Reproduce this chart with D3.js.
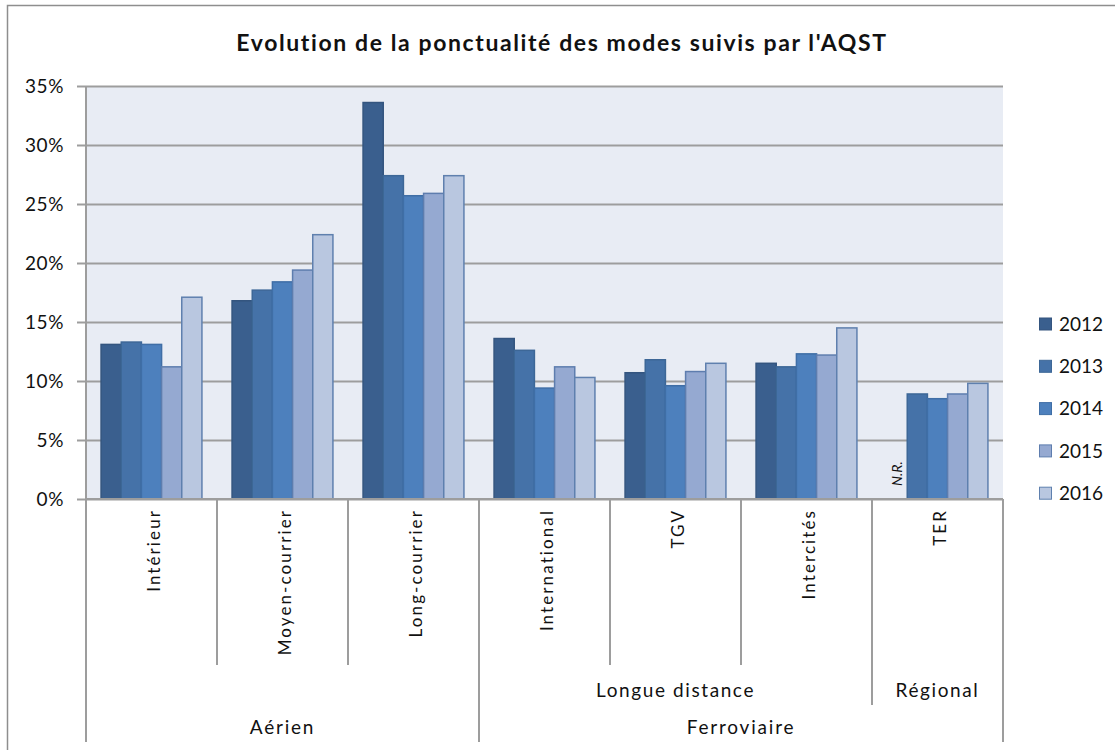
<!DOCTYPE html>
<html>
<head>
<meta charset="utf-8">
<script src="https://cdn.jsdelivr.net/npm/d3@7"></script>
<style>
  html, body { margin: 0; padding: 0; background: #fff; }
  svg { display: block; font-family: Lato, "Open Sans", sans-serif; }
</style>
</head>
<body>
<svg id="chart" width="1115" height="750"></svg>
<script>
// Modes, their sub-grouping and their family (three-level category axis)
const categories = ["Intérieur", "Moyen-courrier", "Long-courrier", "International", "TGV", "Intercités", "TER"];
const subGroups  = ["", "", "", "Longue distance", "Longue distance", "Longue distance", "Régional"];
const families   = ["Aérien", "Aérien", "Aérien", "Ferroviaire", "Ferroviaire", "Ferroviaire", "Ferroviaire"];

const years = ["2012", "2013", "2014", "2015", "2016"];

// Share of delayed trips/flights (%), one array per year; null = not reported
const v2012 = [13.1, 16.8, 33.6, 13.6, 10.7, 11.5, null];
const v2013 = [13.3, 17.7, 27.4, 12.6, 11.8, 11.2, 8.9];
const v2014 = [13.1, 18.4, 25.7, 9.4, 9.6, 12.3, 8.5];
const v2015 = [11.2, 19.4, 25.9, 11.2, 10.8, 12.2, 8.9];
const v2016 = [17.1, 22.4, 27.4, 10.3, 11.5, 14.5, 9.8];

const yTicks = [0, 5, 10, 15, 20, 25, 30, 35];
const naLabel = "N.R.";
const title = "Evolution de la ponctualité des modes suivis par l'AQST";

const seriesValues = [v2012, v2013, v2014, v2015, v2016];
const fills   = ["#3A5F8E", "#4572A8", "#4D80BD", "#95A9D1", "#B9C7E0"];
const strokes = ["#34557F", "#3D6797", "#3F6EA6", "#5E7DAE", "#5F80AE"];

const svg = d3.select("#chart");
const plot = { left: 86, right: 1003, top: 86, bottom: 499 };

// Outer chart frame (extends beyond the right / bottom edge of the view)
svg.append("rect")
  .attr("x", 7.5).attr("y", 5.5).attr("width", 1300).attr("height", 900)
  .attr("fill", "#fff").attr("stroke", "#8e8e8e").attr("stroke-width", 1.5);

// Title
svg.append("text")
  .attr("x", 562).attr("y", 51)
  .attr("text-anchor", "middle")
  .attr("font-size", 23).attr("font-weight", "bold").attr("letter-spacing", 1.6).attr("fill", "#111")
  .text(title);

// Scales
const y = d3.scaleLinear().domain([0, 35]).range([plot.bottom, plot.top]);
const x0 = d3.scaleBand().domain(categories).range([plot.left, plot.right])
  .paddingInner(0.23).paddingOuter(0.115);
const x1 = d3.scaleBand().domain(years).range([0, x0.bandwidth()]);
const step = x0.step();

// Plot area background
svg.append("rect")
  .attr("x", plot.left).attr("y", plot.top)
  .attr("width", plot.right - plot.left).attr("height", plot.bottom - plot.top)
  .attr("fill", "#E8ECF4");

// Gridlines and y axis
const yAxis = d3.axisLeft(y).tickValues(yTicks).tickFormat(d => d + "%")
  .tickSize(-(plot.right - plot.left)).tickPadding(14);
const gy = svg.append("g").attr("transform", `translate(${plot.left},0)`).call(yAxis);
gy.select(".domain").remove();
gy.selectAll(".tick line").attr("stroke", "#9d9d9d").attr("stroke-width", 2).attr("x1", -9);
gy.selectAll(".tick text").attr("font-size", 19).attr("letter-spacing", 0.6).attr("fill", "#111")
  .attr("font-family", "Lato, sans-serif").attr("dy", "0.36em").attr("x", -22);

// Bars
const rows = categories.map((c, i) => ({ cat: c, vals: years.map((yr, k) => ({ yr, k, v: seriesValues[k][i] })) }));
const groups = svg.append("g").selectAll("g").data(rows).join("g")
  .attr("transform", d => `translate(${x0(d.cat)},0)`);
groups.selectAll("rect").data(d => d.vals.filter(e => e.v !== null)).join("rect")
  .attr("x", e => x1(e.yr)).attr("width", x1.bandwidth())
  .attr("y", e => y(e.v)).attr("height", e => y(0) - y(e.v))
  .attr("fill", e => fills[e.k]).attr("stroke", e => strokes[e.k]).attr("stroke-width", 1.5);

// "N.R." marker where a value is missing
groups.selectAll("text.na").data(d => d.vals.filter(e => e.v === null)).join("text")
  .attr("class", "na")
  .attr("transform", e => `translate(${x1(e.yr) + x1.bandwidth() / 2 + 5},${y(0) - 13}) rotate(-90)`)
  .attr("font-size", 14).attr("font-style", "italic").attr("fill", "#111")
  .text(naLabel);

// Axis lines
svg.append("line").attr("x1", plot.left).attr("x2", plot.right)
  .attr("y1", plot.bottom).attr("y2", plot.bottom)
  .attr("stroke", "#9d9d9d").attr("stroke-width", 2);

// Category separators: length depends on which level changes at the boundary
const bounds = d3.range(categories.length + 1);
svg.append("g").selectAll("line").data(bounds).join("line")
  .attr("x1", i => plot.left + i * step).attr("x2", i => plot.left + i * step)
  .attr("y1", i => (i === 0 ? plot.top : plot.bottom))
  .attr("y2", i => {
    if (i === 0 || i === categories.length || families[i - 1] !== families[i]) return 742;
    if (subGroups[i - 1] !== subGroups[i]) return 705;
    return 665;
  })
  .attr("stroke", "#9d9d9d").attr("stroke-width", 2);

// Level 1 labels (rotated)
svg.append("g").selectAll("text").data(categories).join("text")
  .attr("transform", c => `translate(${x0(c) + x0.bandwidth() / 2 + 8},509) rotate(-90)`)
  .attr("text-anchor", "end")
  .attr("font-size", 17).attr("letter-spacing", 2.1).attr("fill", "#111")
  .text(c => c);

// Runs of identical labels for levels 2 and 3
function runs(labels) {
  const out = [];
  labels.forEach((l, i) => {
    if (out.length && out[out.length - 1].label === l) out[out.length - 1].end = i + 1;
    else out.push({ label: l, start: i, end: i + 1 });
  });
  return out.filter(r => r.label !== "");
}

svg.append("g").selectAll("text").data(runs(subGroups)).join("text")
  .attr("x", r => plot.left + (r.start + r.end) / 2 * step).attr("y", 697)
  .attr("text-anchor", "middle").attr("font-size", 19).attr("letter-spacing", 1.6).attr("fill", "#111")
  .text(r => r.label);

svg.append("g").selectAll("text").data(runs(families)).join("text")
  .attr("x", r => plot.left + (r.start + r.end) / 2 * step).attr("y", 734)
  .attr("text-anchor", "middle").attr("font-size", 19).attr("letter-spacing", 1.8).attr("fill", "#111")
  .text(r => r.label);

// Legend
const legend = svg.append("g").selectAll("g").data(years).join("g")
  .attr("transform", (d, k) => `translate(1039,${324 + k * 42.3})`);
legend.append("rect")
  .attr("x", 0.5).attr("y", -6).attr("width", 12).attr("height", 12)
  .attr("fill", (d, k) => fills[k]).attr("stroke", (d, k) => strokes[k]).attr("stroke-width", 1);
legend.append("text")
  .attr("x", 20).attr("y", 0).attr("dy", "0.36em")
  .attr("font-size", 19).attr("fill", "#111")
  .text(d => d);
</script>
</body>
</html>
